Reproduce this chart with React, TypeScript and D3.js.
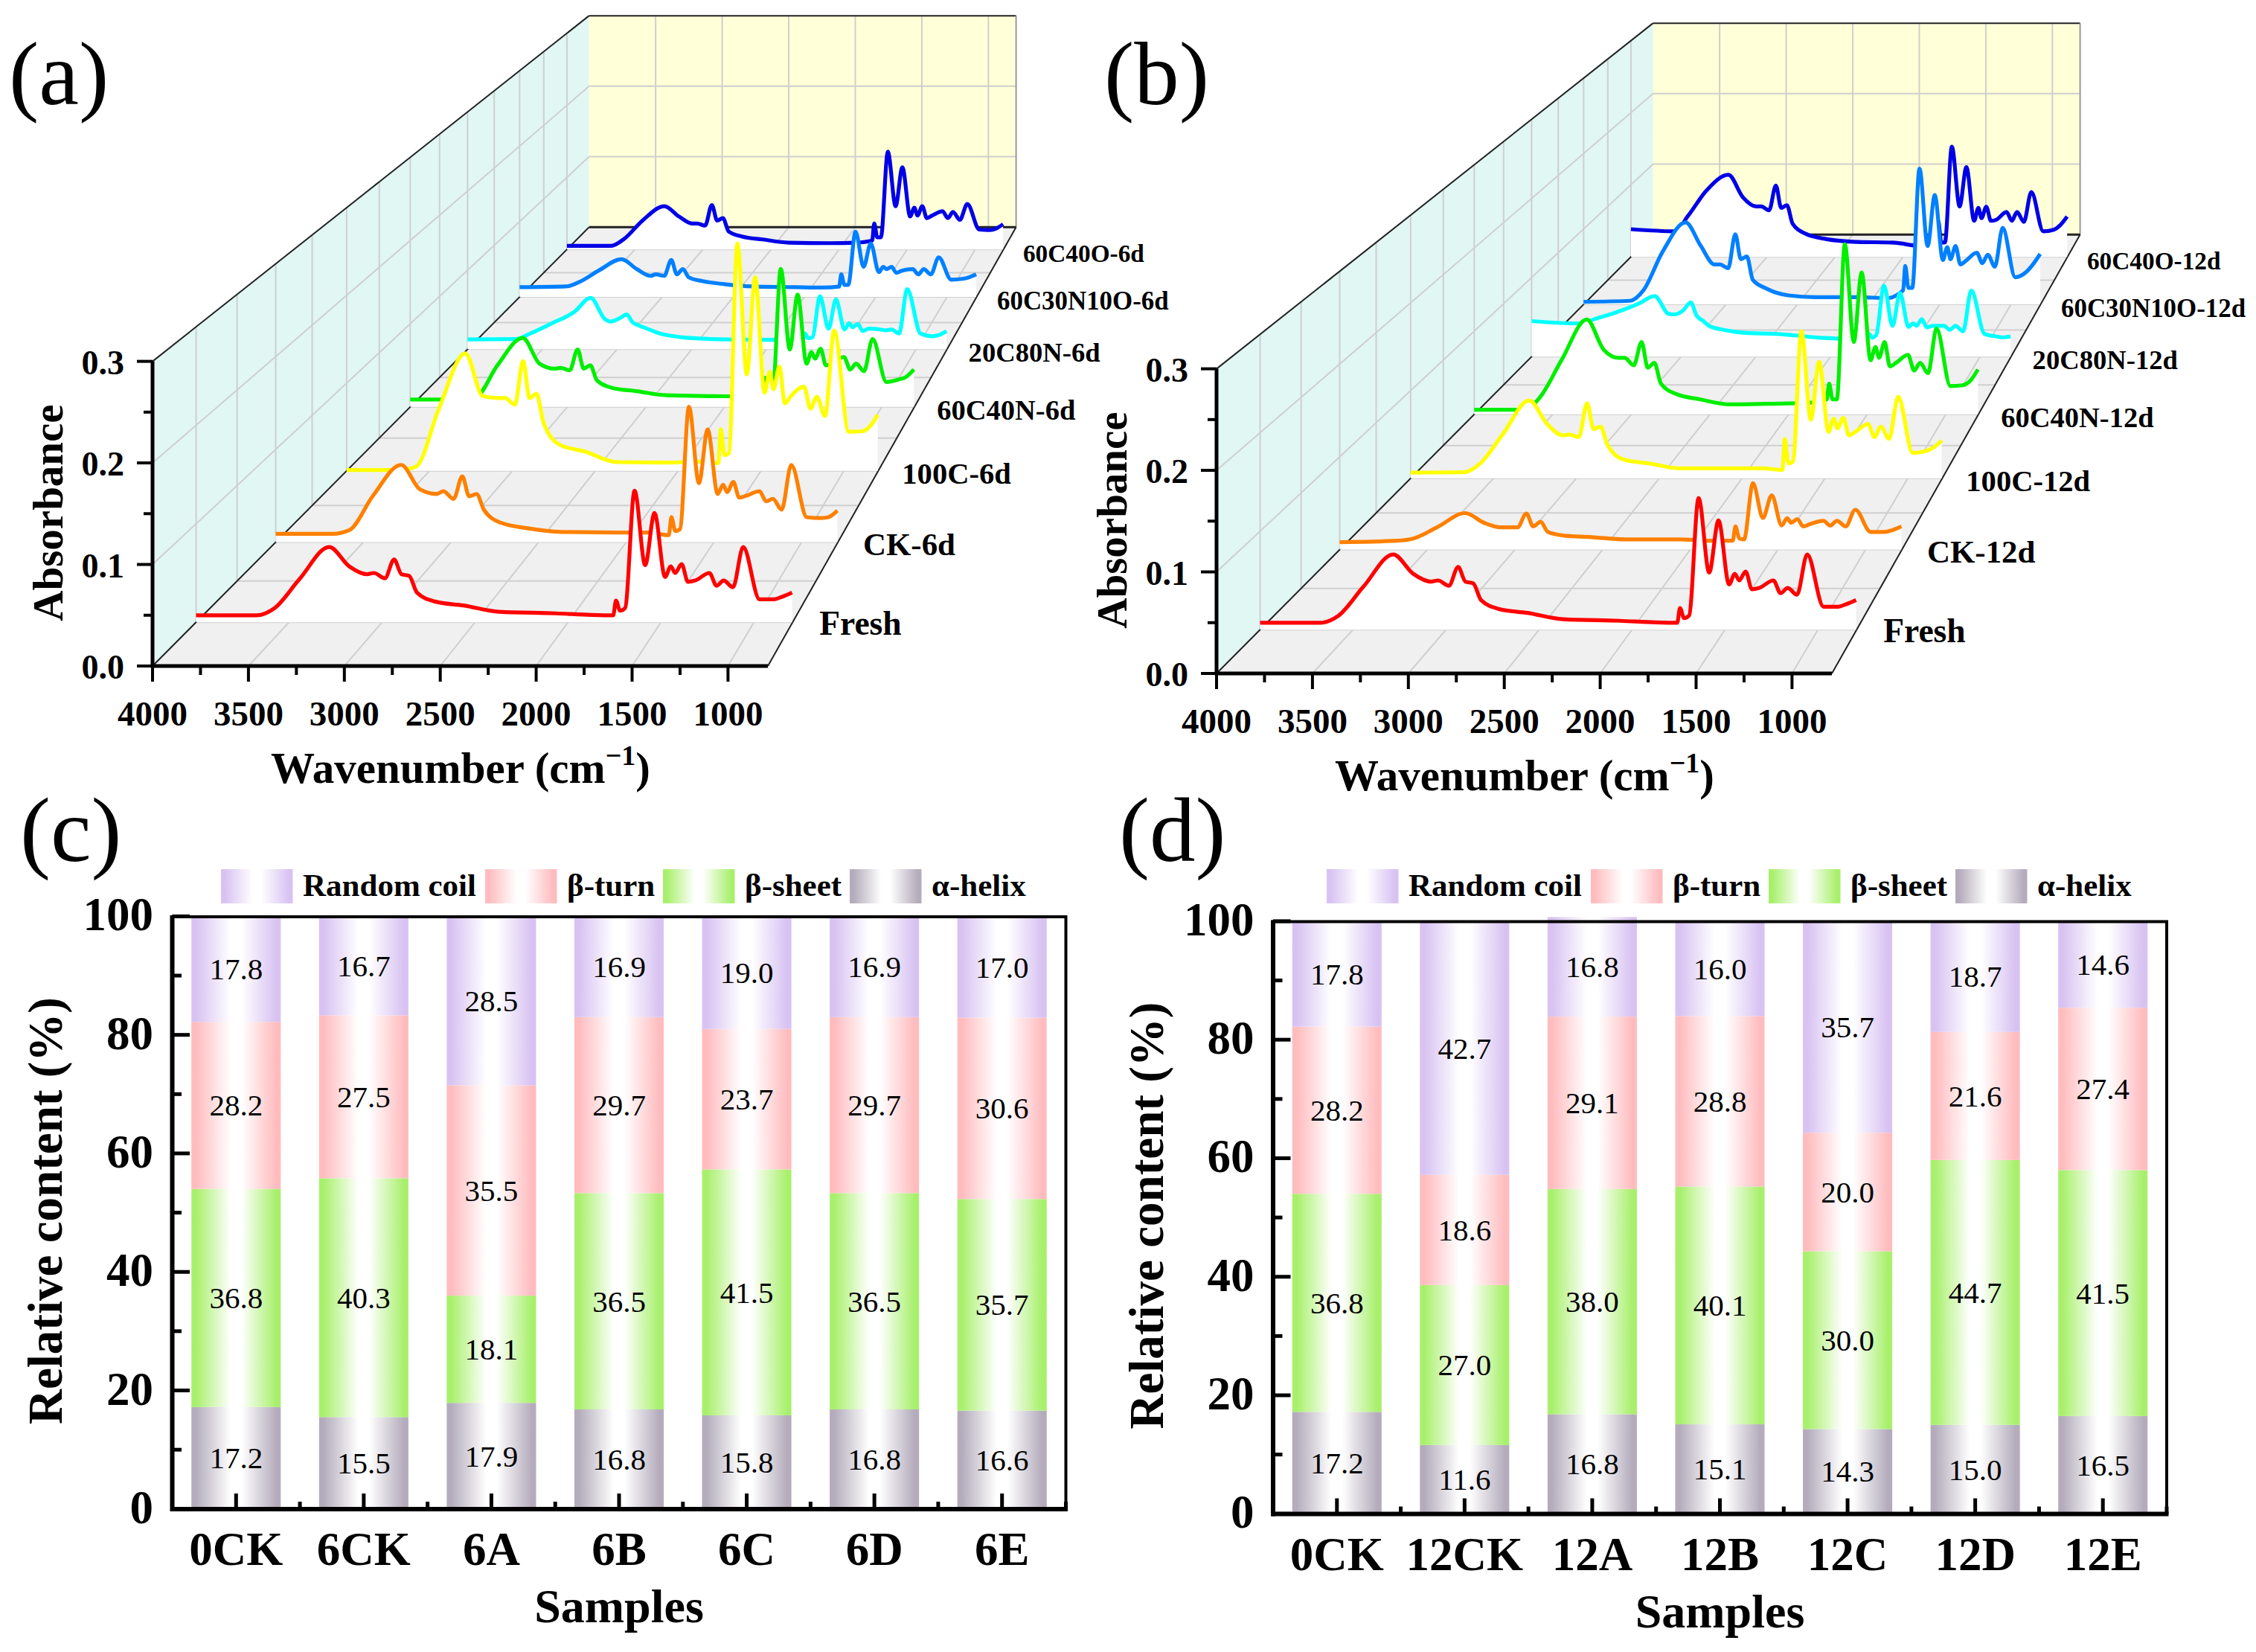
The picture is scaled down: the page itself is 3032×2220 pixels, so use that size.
import React from 'react';
import * as d3 from 'd3';

const WIDTH = 3032;
const HEIGHT = 2220;
const SERIF = "'Liberation Serif', serif";

// shared wavenumber positions the spectra were read at
const wavenumbers = [
  4000, 3675, 3580, 3445, 3284, 3177, 3081, 3043, 2985, 2935, 2896, 2854, 2812, 2716, 2562, 2370, 2064, 1872, 1757,
  1742, 1720, 1693, 1642, 1585, 1535, 1478, 1447, 1424, 1389, 1355, 1316, 1240, 1201, 1163, 1113, 1058, 970, 893, 846,
  795,
];

const fresh = [
  0.007, 0.007, 0.014, 0.0435, 0.0764, 0.0568, 0.0488, 0.05, 0.0446, 0.0637, 0.0488, 0.047, 0.03, 0.021, 0.017, 0.0106,
  0.009, 0.0074, 0.007, 0.022, 0.0117, 0.0143, 0.1337, 0.058, 0.111, 0.046, 0.0568, 0.05, 0.059, 0.041, 0.0424, 0.05,
  0.037, 0.0424, 0.0355, 0.0764, 0.0233, 0.0233, 0.026, 0.03,
];

// panel (a), 6 days
const ck6 = [
  0.009, 0.009, 0.013, 0.05, 0.0833, 0.057, 0.052, 0.055, 0.0467, 0.0709, 0.0495, 0.052, 0.035, 0.021, 0.015, 0.011,
  0.0105, 0.0105, 0.0075, 0.027, 0.012, 0.014, 0.146, 0.0636, 0.1215, 0.052, 0.062, 0.054, 0.065, 0.048, 0.05, 0.055,
  0.044, 0.0467, 0.035, 0.0833, 0.027, 0.026, 0.027, 0.034,
];
const c100_6 = [
  0.001, 0.001, 0.005, 0.07, 0.134, 0.085, 0.083, 0.083, 0.0756, 0.125, 0.083, 0.088, 0.055, 0.03, 0.022, 0.01, 0.0095,
  0.0105, 0.009, 0.0476, 0.018, 0.02, 0.259, 0.11, 0.221, 0.089, 0.113, 0.093, 0.119, 0.077, 0.086, 0.096, 0.071,
  0.0845, 0.0625, 0.16, 0.0446, 0.045, 0.05, 0.064,
];
const c60n40_6 = [
  0.009, 0.009, 0.012, 0.05, 0.083, 0.052, 0.046, 0.047, 0.044, 0.069, 0.046, 0.05, 0.032, 0.023, 0.019, 0.014, 0.013,
  0.0125, 0.012, 0.035, 0.018, 0.02, 0.166, 0.069, 0.135, 0.052, 0.066, 0.058, 0.07, 0.05, 0.052, 0.06, 0.045, 0.052,
  0.043, 0.0816, 0.03, 0.033, 0.036, 0.045,
];
const c20n80_6 = [
  0.0125, 0.013, 0.02, 0.032, 0.0475, 0.065, 0.038, 0.035, 0.039, 0.044, 0.034, 0.03, 0.027, 0.02, 0.015, 0.013, 0.012,
  0.012, 0.012, 0.02, 0.014, 0.015, 0.067, 0.026, 0.063, 0.025, 0.033, 0.028, 0.032, 0.023, 0.026, 0.025, 0.024, 0.025,
  0.02, 0.076, 0.02, 0.0165, 0.018, 0.023,
];
const c60n30o10_6 = [
  0.013, 0.014, 0.02, 0.035, 0.05, 0.037, 0.028, 0.03, 0.028, 0.049, 0.03, 0.037, 0.026, 0.021, 0.017, 0.014, 0.013,
  0.0125, 0.0138, 0.03, 0.016, 0.016, 0.0865, 0.04, 0.071, 0.033, 0.04, 0.037, 0.04, 0.032, 0.035, 0.037, 0.03, 0.037,
  0.03, 0.0526, 0.023, 0.024, 0.026, 0.03,
];
const c60o40_6 = [
  0.005, 0.005, 0.0145, 0.04, 0.06, 0.0457, 0.036, 0.036, 0.033, 0.0616, 0.04, 0.0435, 0.025, 0.018, 0.0138, 0.0094,
  0.0087, 0.0094, 0.0123, 0.036, 0.0167, 0.0167, 0.1355, 0.06, 0.114, 0.0457, 0.058, 0.047, 0.06, 0.0435, 0.047, 0.053,
  0.0435, 0.052, 0.041, 0.063, 0.0275, 0.0268, 0.029, 0.035,
];

// panel (b), 12 days
const ck12 = [
  0.008, 0.0096, 0.012, 0.024, 0.0394, 0.029, 0.024, 0.024, 0.024, 0.039, 0.025, 0.03, 0.019, 0.015, 0.0135, 0.011,
  0.011, 0.0096, 0.0096, 0.025, 0.012, 0.011, 0.0715, 0.034, 0.0585, 0.026, 0.034, 0.029, 0.033, 0.025, 0.0275, 0.031,
  0.026, 0.031, 0.025, 0.043, 0.019, 0.019, 0.021, 0.025,
];
const c100_12 = [
  0.0065, 0.007, 0.017, 0.05, 0.0887, 0.062, 0.049, 0.05, 0.047, 0.0857, 0.056, 0.059, 0.038, 0.0214, 0.017, 0.0113,
  0.0113, 0.0113, 0.0095, 0.045, 0.017, 0.019, 0.168, 0.0667, 0.133, 0.053, 0.068, 0.057, 0.069, 0.049, 0.053, 0.062,
  0.047, 0.059, 0.045, 0.093, 0.029, 0.031, 0.035, 0.043,
];
const c60n40_12 = [
  0.0056, 0.0056, 0.021, 0.065, 0.114, 0.078, 0.068, 0.068, 0.059, 0.087, 0.056, 0.062, 0.037, 0.0245, 0.018, 0.012,
  0.013, 0.0138, 0.018, 0.037, 0.018, 0.018, 0.2045, 0.087, 0.1706, 0.065, 0.081, 0.068, 0.087, 0.0577, 0.062, 0.0715,
  0.0527, 0.062, 0.0496, 0.103, 0.034, 0.035, 0.04, 0.054,
];
const c20n80_12 = [
  0.045, 0.042, 0.0475, 0.0554, 0.067, 0.0766, 0.054, 0.0535, 0.0587, 0.0686, 0.052, 0.0455, 0.039, 0.034, 0.03, 0.029,
  0.024, 0.0224, 0.0224, 0.029, 0.024, 0.028, 0.0898, 0.039, 0.0805, 0.0376, 0.042, 0.039, 0.0475, 0.037, 0.039, 0.039,
  0.034, 0.039, 0.032, 0.0838, 0.029, 0.0257, 0.0244, 0.0257,
];
const c60n30o10_12 = [
  0.0035, 0.0048, 0.0187, 0.07, 0.1087, 0.0775, 0.053, 0.053, 0.048, 0.093, 0.06, 0.0637, 0.0325, 0.021, 0.012, 0.0097,
  0.0097, 0.0083, 0.0187, 0.051, 0.022, 0.022, 0.18, 0.0775, 0.145, 0.059, 0.076, 0.06, 0.0775, 0.053, 0.058, 0.0685,
  0.0547, 0.066, 0.05, 0.1017, 0.036, 0.043, 0.053, 0.067,
];
const c60o40_12 = [
  0.0384, 0.0355, 0.057, 0.092, 0.1138, 0.0826, 0.07, 0.07, 0.0645, 0.099, 0.068, 0.0717, 0.046, 0.032, 0.0246, 0.021,
  0.0196, 0.015, 0.016, 0.05, 0.02, 0.02, 0.153, 0.07, 0.1246, 0.05, 0.068, 0.0536, 0.0696, 0.05, 0.0514, 0.0623, 0.05,
  0.0623, 0.0486, 0.09, 0.0355, 0.0377, 0.044, 0.056,
];

const spectraColors = ['#ff0000', '#ff8000', '#ffff00', '#00ee00', '#00ffff', '#0080ff', '#0000e6'];
const seriesA = [fresh, ck6, c100_6, c60n40_6, c20n80_6, c60n30o10_6, c60o40_6];
const seriesB = [fresh, ck12, c100_12, c60n40_12, c20n80_12, c60n30o10_12, c60o40_12];
const namesA = ['Fresh', 'CK-6d', '100C-6d', '60C40N-6d', '20C80N-6d', '60C30N10O-6d', '60C40O-6d'];
const namesB = ['Fresh', 'CK-12d', '100C-12d', '60C40N-12d', '20C80N-12d', '60C30N10O-12d', '60C40O-12d'];
const waveTicks = [4000, 3500, 3000, 2500, 2000, 1500, 1000];
const waveMinor = [3750, 3250, 2750, 2250, 1750, 1250];
const absTicks = [0, 0.1, 0.2, 0.3];
const absMinor = [0.05, 0.15, 0.25];

// panels (c) and (d), bottom to top: helix, sheet, turn, coil
const samplesC = ['0CK', '6CK', '6A', '6B', '6C', '6D', '6E'];
const helixC = [17.2, 15.5, 17.9, 16.8, 15.8, 16.8, 16.6];
const sheetC = [36.8, 40.3, 18.1, 36.5, 41.5, 36.5, 35.7];
const turnC = [28.2, 27.5, 35.5, 29.7, 23.7, 29.7, 30.6];
const coilC = [17.8, 16.7, 28.5, 16.9, 19.0, 16.9, 17.0];

const samplesD = ['0CK', '12CK', '12A', '12B', '12C', '12D', '12E'];
const helixD = [17.2, 11.6, 16.8, 15.1, 14.3, 15.0, 16.5];
const sheetD = [36.8, 27.0, 38.0, 40.1, 30.0, 44.7, 41.5];
const turnD = [28.2, 18.6, 29.1, 28.8, 20.0, 21.6, 27.4];
const coilD = [17.8, 42.7, 16.8, 16.0, 35.7, 18.7, 14.6];

const structureColors = ['#b4acbc', '#a8f06c', '#ffbcbf', '#d8c2f2'];

// 3D box, perspective towards one vanishing point
const xFront = d3.scaleLinear().domain([4000, 1000]).range([205, 978.4]);
const yFront = d3.scaleLinear().domain([0, 0.3]).range([895, 485.6]);
const vanish = { x: 2122, y: -1032 };
const W_END = 792;
const depthScale = (z: number) => 1 / (1 + 0.063 * z);
const project = (w: number, a: number, z: number): [number, number] => {
  const s = depthScale(z);
  return [vanish.x + (xFront(w) - vanish.x) * s, vanish.y + (yFront(a) - vanish.y) * s];
};
const seg = (a: [number, number], b: [number, number]) => ({ x1: a[0], y1: a[1], x2: b[0], y2: b[1] });
const poly = (pts: [number, number][]) => pts.map((p) => p.join(',')).join(' ');

interface SpectraProps {
  dx: number;
  dy: number;
  letter: string;
  letterX: number;
  names: string[];
  series: number[][];
}

const Spectra: React.FC<SpectraProps> = ({ dx, dy, letter, letterX, names, series }) => {
  const depthLines = d3.range(0.5, 7, 0.5);
  const order = d3.range(series.length).reverse();
  const grid = '#cfcfcf';
  return (
    <g fontFamily={SERIF}>
      <text x={letterX} y={140} fontSize={121} fill="#000">{letter}</text>
      <g transform={`translate(${dx},${dy})`}>
        <polygon
          points={poly([project(4000, 0, 0), project(4000, 0.3, 0), project(4000, 0.3, 7), project(4000, 0, 7)])}
          fill="#e0f7f4"
        />
        <polygon
          points={poly([project(4000, 0, 7), project(4000, 0.3, 7), project(W_END, 0.3, 7), project(W_END, 0, 7)])}
          fill="#ffffd8"
        />
        <polygon
          points={poly([project(4000, 0, 0), project(4000, 0, 7), project(W_END, 0, 7), project(W_END, 0, 0)])}
          fill="#f0f0f0"
        />
        {depthLines.map((z) => (
          <g key={z} stroke={grid} strokeWidth={2}>
            <line {...seg(project(4000, 0, z), project(W_END, 0, z))} />
            <line {...seg(project(4000, 0, z), project(4000, 0.3, z))} />
          </g>
        ))}
        {absTicks.slice(1, 3).map((a) => (
          <g key={a} stroke={grid} strokeWidth={2}>
            <line {...seg(project(4000, a, 0), project(4000, a, 7))} />
            <line {...seg(project(4000, a, 7), project(W_END, a, 7))} />
          </g>
        ))}
        {waveTicks.slice(1).map((w) => (
          <g key={w} stroke={grid} strokeWidth={2}>
            <line {...seg(project(w, 0, 0), project(w, 0, 7))} />
            <line {...seg(project(w, 0, 7), project(w, 0.3, 7))} />
          </g>
        ))}
        <g stroke="#222" strokeWidth={2} fill="none">
          <line {...seg(project(4000, 0.3, 0), project(4000, 0.3, 7))} />
          <line {...seg(project(4000, 0.3, 7), project(W_END, 0.3, 7))} />
          <line {...seg(project(W_END, 0.3, 7), project(W_END, 0, 7))} stroke="#999" />
          <line {...seg(project(4000, 0, 0), project(4000, 0, 7))} />
          <line {...seg(project(W_END, 0, 0), project(W_END, 0, 7))} />
        </g>
        <line {...seg(project(4000, 0, 7), project(W_END, 0, 7))} stroke="#222" strokeWidth={3} />

        {order.map((i) => {
          const z = i + 0.5;
          const vals = series[i];
          const pts = wavenumbers.map((w, j) => ({ top: project(w, vals[j], z), base: project(w, 0, z) }));
          const area = d3
            .area<(typeof pts)[number]>()
            .x((d) => d.top[0])
            .y0((d) => d.base[1])
            .y1((d) => d.top[1])
            .curve(d3.curveMonotoneX);
          const line = d3
            .line<(typeof pts)[number]>()
            .x((d) => d.top[0])
            .y((d) => d.top[1])
            .curve(d3.curveMonotoneX);
          return (
            <g key={i}>
              <path d={area(pts) || ''} fill="#fff" />
              <path
                d={line(pts) || ''}
                fill="none"
                stroke={spectraColors[i]}
                strokeWidth={5.2}
                strokeLinejoin="round"
              />
            </g>
          );
        })}

        {names.map((n, i) => {
          const z = i + 0.5;
          const s = depthScale(z);
          const p = project(W_END, 0, z);
          return (
            <text key={n} x={p[0] + 37 * s} y={p[1] + 17} fontSize={47 * s} fontWeight="bold" fill="#000">
              {n}
            </text>
          );
        })}

        <line x1={xFront(4000) - 2.5} x2={xFront(W_END)} y1={yFront(0)} y2={yFront(0)} stroke="#000" strokeWidth={5} />
        <line x1={xFront(4000)} x2={xFront(4000)} y1={yFront(0)} y2={yFront(0.3)} stroke="#000" strokeWidth={5} />
        {waveTicks.map((w) => (
          <g key={w}>
            <line x1={xFront(w)} x2={xFront(w)} y1={yFront(0)} y2={yFront(0) + 21} stroke="#000" strokeWidth={4} />
            <text x={xFront(w)} y={975} textAnchor="middle" fontSize={47} fontWeight="bold">{w}</text>
          </g>
        ))}
        {waveMinor.map((w) => (
          <line key={w} x1={xFront(w)} x2={xFront(w)} y1={yFront(0)} y2={yFront(0) + 12} stroke="#000" strokeWidth={4} />
        ))}
        {absTicks.map((a) => (
          <g key={a}>
            <line x1={xFront(4000)} x2={xFront(4000) - 21} y1={yFront(a)} y2={yFront(a)} stroke="#000" strokeWidth={4} />
            <text x={167} y={yFront(a) + 17} textAnchor="end" fontSize={46} fontWeight="bold">{a.toFixed(1)}</text>
          </g>
        ))}
        {absMinor.map((a) => (
          <line key={a} x1={xFront(4000)} x2={xFront(4000) - 12} y1={yFront(a)} y2={yFront(a)} stroke="#000" strokeWidth={4} />
        ))}
        <text transform="translate(84,689) rotate(-90)" textAnchor="middle" fontSize={57} fontWeight="bold">Absorbance</text>
        <text x={619} y={1052} textAnchor="middle" fontSize={59} fontWeight="bold">
          Wavenumber (cm
          <tspan dy={-24} fontSize={38}>−1</tspan>
          <tspan dy={24}>)</tspan>
        </text>
      </g>
    </g>
  );
};

interface BarsProps {
  id: string;
  dx: number;
  dy: number;
  letter: string;
  letterX: number;
  samples: string[];
  values: number[][];
  legendX: number[];
}

const legendNames = ['Random coil', 'β-turn', 'β-sheet', 'α-helix'];
const legendColors = [structureColors[3], structureColors[2], structureColors[1], structureColors[0]];

const Bars: React.FC<BarsProps> = ({ id, dx, dy, letter, letterX, samples, values, legendX }) => {
  const x = d3.scaleBand<string>().domain(samples).range([231.5, 1432.5]).paddingInner(0.3).paddingOuter(0.15);
  const y = d3.scaleLinear().domain([0, 100]).range([2027.8, 1231.4]);
  const rows = samples.map((_, i) => values.map((v) => v[i]));
  const stacked = d3.stack<number[], number>().keys([0, 1, 2, 3]).value((r, k) => r[k])(rows);
  const step = x.step();
  return (
    <g fontFamily={SERIF}>
      <defs>
        {structureColors.map((c, k) => (
          <linearGradient key={k} id={`${id}-g${k}`} x1="0" x2="1" y1="0" y2="0">
            <stop offset="0.05" stopColor={c} />
            <stop offset="0.44" stopColor="#fff" />
            <stop offset="0.56" stopColor="#fff" />
            <stop offset="0.95" stopColor={c} />
          </linearGradient>
        ))}
      </defs>
      <text x={letterX} y={1157} fontSize={123} fill="#000">{letter}</text>
      <g transform={`translate(${dx},${dy})`}>
        {stacked.map((layer, k) => (
          <g key={k}>
            {layer.map((d, i) => (
              <rect
                key={i}
                x={x(samples[i])}
                width={x.bandwidth()}
                y={y(d[1])}
                height={y(d[0]) - y(d[1])}
                fill={`url(#${id}-g${k})`}
              />
            ))}
            {layer.map((d, i) => (
              <text
                key={i}
                x={(x(samples[i]) as number) + x.bandwidth() / 2}
                y={y((d[0] + d[1]) / 2) + 14}
                textAnchor="middle"
                fontSize={41}
                fill="#000"
              >
                {values[k][i].toFixed(1)}
              </text>
            ))}
          </g>
        ))}
        <rect x={231.5} y={1232} width={1201} height={796} fill="none" stroke="#000" strokeWidth={4} />
        <line x1={231.5} x2={231.5} y1={1230} y2={2031} stroke="#000" strokeWidth={6} />
        <line x1={229} x2={1435} y1={2028} y2={2028} stroke="#000" strokeWidth={6} />
        {y.ticks(5).map((t) => (
          <g key={t}>
            <line x1={231.5} x2={255} y1={y(t)} y2={y(t)} stroke="#000" strokeWidth={5} />
            <text x={206} y={y(t) + 19} textAnchor="end" fontSize={63} fontWeight="bold">{t}</text>
          </g>
        ))}
        {y.ticks(10).filter((t) => t % 20 !== 0).map((t) => (
          <line key={t} x1={231.5} x2={244} y1={y(t)} y2={y(t)} stroke="#000" strokeWidth={5} />
        ))}
        {samples.map((s, i) => {
          const cx = (x(s) as number) + x.bandwidth() / 2;
          return (
            <g key={s}>
              <line x1={cx} x2={cx} y1={2028} y2={2007} stroke="#000" strokeWidth={5} />
              <line x1={cx + step / 2} x2={cx + step / 2} y1={2028} y2={2018} stroke="#000" strokeWidth={5} />
              <text x={cx} y={2103} textAnchor="middle" fontSize={63} fontWeight="bold">{s}</text>
            </g>
          );
        })}
        <text x={832} y={2180} textAnchor="middle" fontSize={64} fontWeight="bold">Samples</text>
        <text transform="translate(83,1627) rotate(-90)" textAnchor="middle" fontSize={65} fontWeight="bold">
          Relative content (%)
        </text>
      </g>
      {legendNames.map((n, k) => (
        <g key={n}>
          <rect
            x={legendX[k]}
            y={1168}
            width={96.5}
            height={46}
            fill={`url(#${id}-g${structureColors.indexOf(legendColors[k])})`}
          />
          <text x={legendX[k] + 110} y={1204} fontSize={43} fontWeight="bold" fill="#000">{n}</text>
        </g>
      ))}
    </g>
  );
};

const App: React.FC = () => (
  <svg
    width={WIDTH}
    height={HEIGHT}
    style={{ position: 'absolute', left: 0, top: 0, background: '#fff' }}
  >
    <Spectra dx={0} dy={0} letter="(a)" letterX={12} names={namesA} series={seriesA} />
    <Spectra dx={1430} dy={10} letter="(b)" letterX={1484} names={namesB} series={seriesB} />
    <Bars
      id="c"
      dx={0}
      dy={0}
      letter="(c)"
      letterX={27}
      samples={samplesC}
      values={[helixC, sheetC, turnC, coilC]}
      legendX={[297, 652, 891, 1142]}
    />
    <Bars
      id="d"
      dx={1479.5}
      dy={6.5}
      letter="(d)"
      letterX={1504}
      samples={samplesD}
      values={[helixD, sheetD, turnD, coilD]}
      legendX={[1783, 2138, 2377, 2628]}
    />
  </svg>
);

export default App;
